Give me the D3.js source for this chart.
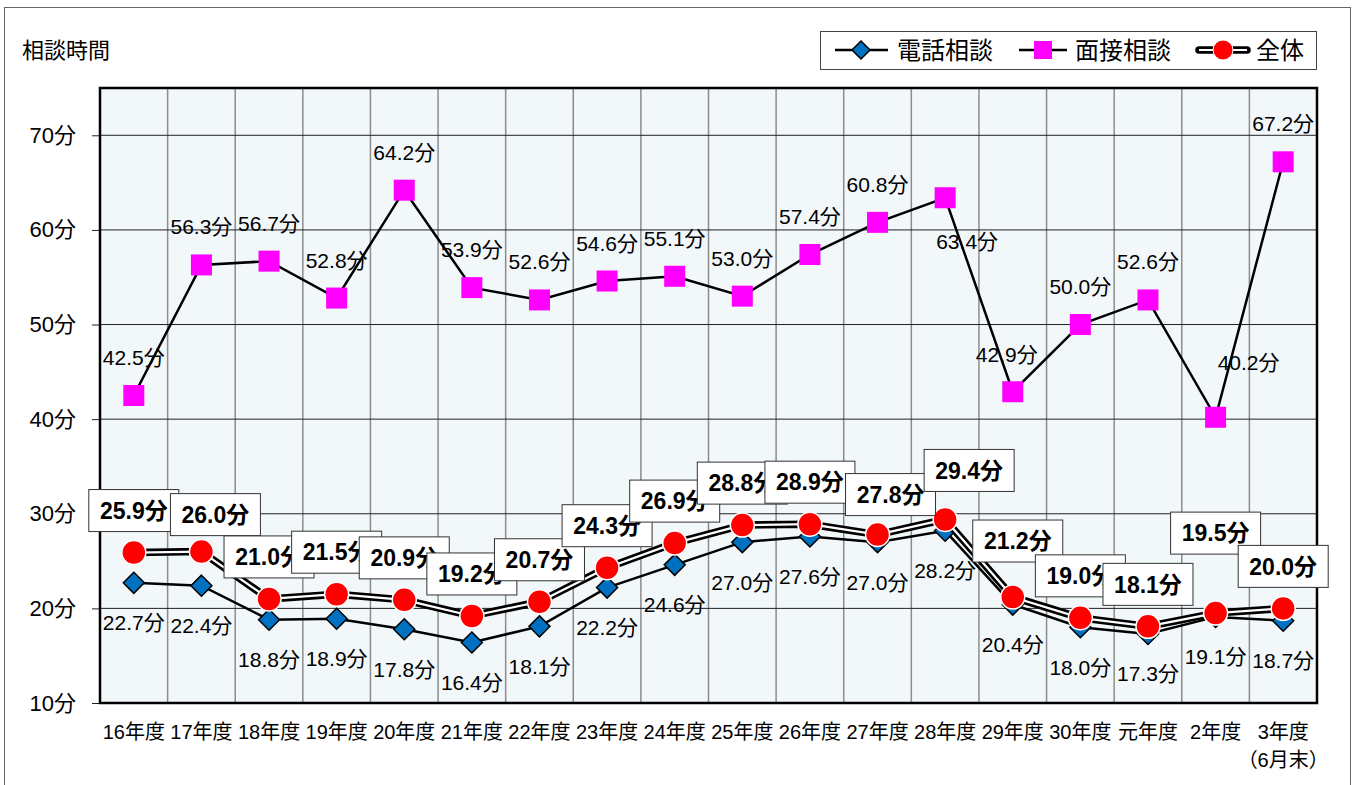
<!DOCTYPE html>
<html>
<head>
<meta charset="utf-8">
<script src="https://cdn.jsdelivr.net/npm/d3@7"></script>
<style>
  body { margin: 0; background: #fff; }
  text { font-family: "Liberation Sans", "Noto Sans CJK JP", sans-serif; fill: #000; }
</style>
</head>
<body>
<div id="chart"></div>
<script>
// fiscal years on the x axis
const years = ["16年度", "17年度", "18年度", "19年度", "20年度", "21年度", "22年度", "23年度", "24年度",
  "25年度", "26年度", "27年度", "28年度", "29年度", "30年度", "元年度", "2年度", "3年度"];

// minutes per consultation
const phone = [22.7, 22.4, 18.8, 18.9, 17.8, 16.4, 18.1, 22.2, 24.6, 27.0, 27.6, 27.0, 28.2, 20.4, 18.0, 17.3, 19.1, 18.7];
const faceToFace = [42.5, 56.3, 56.7, 52.8, 64.2, 53.9, 52.6, 54.6, 55.1, 53.0, 57.4, 60.8, 63.4, 42.9, 50.0, 52.6, 40.2, 67.2];
const overall = [25.9, 26.0, 21.0, 21.5, 20.9, 19.2, 20.7, 24.3, 26.9, 28.8, 28.9, 27.8, 29.4, 21.2, 19.0, 18.1, 19.5, 20.0];

const yTicks = [10, 20, 30, 40, 50, 60, 70];

// a few labels were dragged off their default spot in the original
const faceNudge = { 12: [22, 82], 13: [-6, 1], 16: [33, -17] };
const overallNudge = { 1: [14, 5], 11: [13, 2], 12: [24, -7], 13: [5, -14], 16: [0, -38] };

const width = 1365, height = 785;
const plot = { left: 100, right: 1317, top: 88, bottom: 703 };

const svg = d3.select("#chart").append("svg")
  .attr("width", width)
  .attr("height", height);

// outer frame
svg.append("rect")
  .attr("x", 4.5).attr("y", 7.5)
  .attr("width", 1346).attr("height", 800)
  .attr("fill", "#fff").attr("stroke", "#666");

const x = d3.scaleBand().domain(years).range([plot.left, plot.right]);
const y = d3.scaleLinear().domain([10, 75]).range([plot.bottom, plot.top]);
const cx = d => x(d) + x.bandwidth() / 2;

svg.append("rect")
  .attr("x", plot.left).attr("y", plot.top)
  .attr("width", plot.right - plot.left).attr("height", plot.bottom - plot.top)
  .attr("fill", "#f2f7fa");

// vertical grid at category boundaries
svg.append("g").selectAll("line")
  .data(years.slice(1))
  .join("line")
  .attr("x1", d => x(d)).attr("x2", d => x(d))
  .attr("y1", plot.top).attr("y2", plot.bottom)
  .attr("stroke", "#8c8c8c").attr("stroke-width", 1.5);

// horizontal grid
svg.append("g").selectAll("line")
  .data(yTicks.slice(1))
  .join("line")
  .attr("x1", plot.left).attr("x2", plot.right)
  .attr("y1", d => y(d)).attr("y2", d => y(d))
  .attr("stroke", "#222").attr("stroke-width", 1);

// y axis
const yAxis = svg.append("g")
  .attr("transform", `translate(${plot.left},0)`)
  .call(d3.axisLeft(y).tickValues(yTicks).tickSize(8).tickPadding(16).tickFormat(d => d + "分"));
yAxis.select(".domain").remove();
yAxis.attr("font-size", 22).attr("font-family", null);
yAxis.selectAll(".tick line").attr("stroke", "#222");
yAxis.selectAll(".tick text").attr("fill", "#000");

// x labels
const xAxis = svg.append("g")
  .attr("transform", `translate(0,${plot.bottom})`)
  .call(d3.axisBottom(x).tickSize(0).tickPadding(22));
xAxis.select(".domain").remove();
xAxis.attr("font-size", 20).attr("font-family", null);
xAxis.selectAll(".tick text").attr("fill", "#000");

svg.append("text")
  .attr("x", cx("3年度")).attr("y", 767)
  .attr("text-anchor", "middle").attr("font-size", 20)
  .text("（6月末）");

// plot border
svg.append("rect")
  .attr("x", plot.left).attr("y", plot.top)
  .attr("width", plot.right - plot.left).attr("height", plot.bottom - plot.top)
  .attr("fill", "none").attr("stroke", "#000").attr("stroke-width", 2.5);

// title
svg.append("text")
  .attr("x", 22).attr("y", 58)
  .attr("font-size", 22)
  .text("相談時間");

const line = d3.line().x((d, i) => cx(years[i])).y(d => y(d));

// 面接相談
svg.append("path")
  .attr("d", line(faceToFace))
  .attr("fill", "none").attr("stroke", "#000").attr("stroke-width", 2.5);
svg.append("g").selectAll("rect")
  .data(faceToFace)
  .join("rect")
  .attr("x", (d, i) => cx(years[i]) - 10.5)
  .attr("y", d => y(d) - 10.5)
  .attr("width", 21).attr("height", 21)
  .attr("fill", "#ff00ff");

// 電話相談
svg.append("path")
  .attr("d", line(phone))
  .attr("fill", "none").attr("stroke", "#000").attr("stroke-width", 2.5);
svg.append("g").selectAll("path")
  .data(phone)
  .join("path")
  .attr("transform", (d, i) => `translate(${cx(years[i])},${y(d)})`)
  .attr("d", "M0,-10.5L10.5,0L0,10.5L-10.5,0Z")
  .attr("fill", "#0070c0").attr("stroke", "#000").attr("stroke-width", 1.5);

// 全体 (double line)
svg.append("path")
  .attr("d", line(overall))
  .attr("fill", "none").attr("stroke", "#000").attr("stroke-width", 7.5)
  .attr("stroke-linejoin", "round");
svg.append("path")
  .attr("d", line(overall))
  .attr("fill", "none").attr("stroke", "#fff").attr("stroke-width", 2.2)
  .attr("stroke-linejoin", "round");
svg.append("g").selectAll("circle")
  .data(overall)
  .join("circle")
  .attr("cx", (d, i) => cx(years[i]))
  .attr("cy", d => y(d))
  .attr("r", 12)
  .attr("fill", "#ff0000").attr("stroke", "#fff").attr("stroke-width", 1.5);

// value labels
svg.append("g").selectAll("text")
  .data(phone)
  .join("text")
  .attr("x", (d, i) => cx(years[i]))
  .attr("y", d => y(d) + 40)
  .attr("dy", "0.36em")
  .attr("text-anchor", "middle").attr("font-size", 21)
  .text(d => d.toFixed(1) + "分");

svg.append("g").selectAll("text")
  .data(faceToFace)
  .join("text")
  .attr("x", (d, i) => cx(years[i]) + (faceNudge[i] ? faceNudge[i][0] : 0))
  .attr("y", (d, i) => y(d) - 38 + (faceNudge[i] ? faceNudge[i][1] : 0))
  .attr("dy", "0.36em")
  .attr("text-anchor", "middle").attr("font-size", 21)
  .text(d => d.toFixed(1) + "分");

const boxes = svg.append("g").selectAll("g")
  .data(overall)
  .join("g")
  .attr("transform", (d, i) => {
    const n = overallNudge[i] || [0, 0];
    return `translate(${cx(years[i]) + n[0]},${y(d) - 42 + n[1]})`;
  });
boxes.append("rect")
  .attr("x", -45).attr("y", -21)
  .attr("width", 90).attr("height", 42)
  .attr("fill", "#fff").attr("stroke", "#333").attr("stroke-width", 1);
boxes.append("text")
  .attr("dy", "0.36em")
  .attr("text-anchor", "middle")
  .attr("font-size", 23).attr("font-weight", "bold")
  .text(d => d.toFixed(1) + "分");

// legend
const legend = svg.append("g");
legend.append("rect")
  .attr("x", 820.5).attr("y", 31.5)
  .attr("width", 496).attr("height", 38)
  .attr("fill", "#fff").attr("stroke", "#444");
const ly = 50;
legend.append("line").attr("x1", 835).attr("x2", 888).attr("y1", ly).attr("y2", ly)
  .attr("stroke", "#000").attr("stroke-width", 2.5);
legend.append("path")
  .attr("transform", `translate(861,${ly})`)
  .attr("d", "M0,-9L9,0L0,9L-9,0Z")
  .attr("fill", "#0070c0").attr("stroke", "#000").attr("stroke-width", 1.5);
legend.append("text").attr("x", 897).attr("y", ly).attr("dy", "0.36em")
  .attr("font-size", 24).text("電話相談");

legend.append("line").attr("x1", 1019).attr("x2", 1067).attr("y1", ly).attr("y2", ly)
  .attr("stroke", "#000").attr("stroke-width", 2.5);
legend.append("rect").attr("x", 1034).attr("y", ly - 9).attr("width", 18).attr("height", 18)
  .attr("fill", "#ff00ff");
legend.append("text").attr("x", 1075).attr("y", ly).attr("dy", "0.36em")
  .attr("font-size", 24).text("面接相談");

legend.append("line").attr("x1", 1199).attr("x2", 1247).attr("y1", ly).attr("y2", ly)
  .attr("stroke", "#000").attr("stroke-width", 7.5).attr("stroke-linecap", "round");
legend.append("line").attr("x1", 1199).attr("x2", 1247).attr("y1", ly).attr("y2", ly)
  .attr("stroke", "#fff").attr("stroke-width", 2.2);
legend.append("circle").attr("cx", 1223).attr("cy", ly).attr("r", 10)
  .attr("fill", "#ff0000").attr("stroke", "#fff").attr("stroke-width", 1);
legend.append("text").attr("x", 1256).attr("y", ly).attr("dy", "0.36em")
  .attr("font-size", 24).text("全体");
</script>
</body>
</html>
